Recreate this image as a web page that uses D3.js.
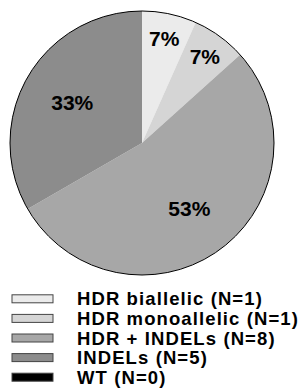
<!DOCTYPE html>
<html>
<head>
<meta charset="utf-8">
<script src="https://cdn.jsdelivr.net/npm/d3@7"></script>
<style>
    body { margin: 0; background: #fff; }
    svg { display: block; font-family: "Liberation Sans", Arial, sans-serif; font-weight: bold; }
</style>
</head>
<body>
<svg id="chart" width="304" height="389"></svg>
<script>
// genotype classes
const categories = ['HDR biallelic', 'HDR monoallelic', 'HDR + INDELs', 'INDELs', 'WT'];
const counts = [1, 1, 8, 5, 0];
const fills = ['#ebebeb', '#d5d5d5', '#a7a7a7', '#8c8c8c', '#000000'];

const width = 304, height = 389;
const cx = 142, cy = 143, radius = 132;

const svg = d3.select('#chart');
const total = d3.sum(counts);

const pie = d3.pie().sort(null).startAngle(0).endAngle(2 * Math.PI);
const arcs = pie(counts);
const arc = d3.arc().innerRadius(0).outerRadius(radius);
// small slices get their label pushed further out
const inner_label = d3.arc().innerRadius(radius * 0.61).outerRadius(radius * 0.61);
const outer_label = d3.arc().innerRadius(radius * 0.81).outerRadius(radius * 0.81);

const g = svg.append('g').attr('transform', `translate(${cx},${cy})`);

g.selectAll('path.slice')
    .data(arcs.filter(d => d.value > 0))
    .join('path')
    .attr('class', 'slice')
    .attr('d', arc)
    .attr('fill', d => fills[d.index]);

g.append('circle')
    .attr('r', radius)
    .attr('fill', 'none')
    .attr('stroke', '#000')
    .attr('stroke-width', 1);

g.selectAll('text.pct')
    .data(arcs.filter(d => d.value > 0))
    .join('text')
    .attr('class', 'pct')
    .attr('transform', d => {
        const frac = d.value / total;
        const [x, y] = (frac < 0.1 ? outer_label : inner_label).centroid(d);
        return `translate(${x},${y})`;
    })
    .attr('text-anchor', 'middle')
    .attr('dy', '0.36em')
    .attr('font-size', 21)
    .attr('fill', '#000')
    .text(d => Math.round(d.value / total * 100) + '%');

// legend
const legend_y = d3.scaleBand().domain(categories).range([289, 387]);
const legend = svg.append('g');

const rows = legend.selectAll('g.row')
    .data(categories)
    .join('g')
    .attr('class', 'row')
    .attr('transform', d => `translate(0,${legend_y(d) + legend_y.bandwidth() / 2})`);

rows.append('rect')
    .attr('x', 12)
    .attr('y', -4)
    .attr('width', 41)
    .attr('height', 8)
    .attr('fill', (d, i) => fills[i])
    .attr('stroke', '#444')
    .attr('stroke-width', 1);

rows.append('text')
    .attr('x', 77)
    .attr('y', 6.5)
    .attr('font-size', 18.5)
    .attr('letter-spacing', 1.1)
    .attr('fill', '#000')
    .text((d, i) => `${d} (N=${counts[i]})`);
</script>
</body>
</html>
